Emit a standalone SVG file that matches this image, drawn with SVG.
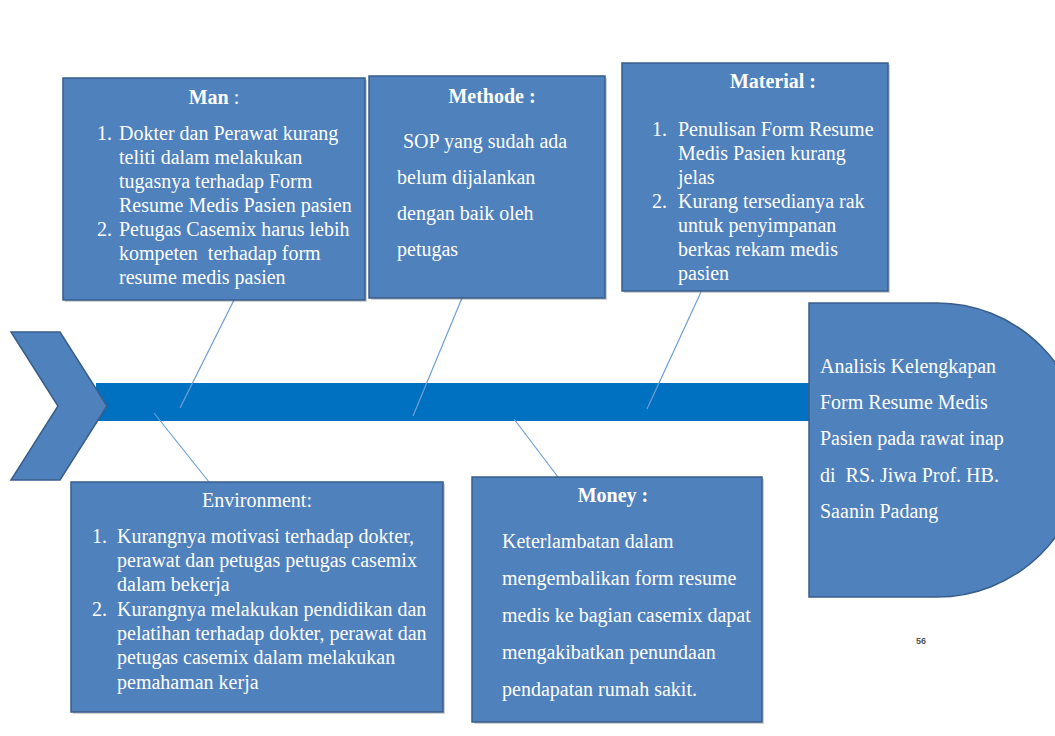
<svg xmlns="http://www.w3.org/2000/svg" width="1055" height="736" viewBox="0 0 1055 736">
<style>
.box{fill:#4F81BD;stroke:#385D8A;stroke-width:1.5}
.sh{fill:#000;opacity:0.18}
.t{font-family:"Liberation Serif","Times New Roman",serif;font-size:20px;fill:#FFFFFF}
.b{font-weight:bold}
.c{text-anchor:middle}
.ln{stroke:#6E9FD6;stroke-width:1.2;fill:none}
</style>
<rect width="1055" height="736" fill="#FFFFFF"/>
<g id="spine">
<rect x="96" y="383" width="716" height="38" fill="#0070C0"/>
</g>
<g id="tail">
<polygon points="11,332 60,332 107,406 60,480 11,480 58,406" class="box"/>
</g>
<g id="connectors">
<line class="ln" x1="234" y1="300" x2="180" y2="408"/>
<line class="ln" x1="462" y1="298" x2="413" y2="416"/>
<line class="ln" x1="701" y1="292" x2="647" y2="409"/>
<line class="ln" x1="154" y1="413" x2="209" y2="482"/>
<line class="ln" x1="514" y1="419" x2="558" y2="477"/>
</g>
<g id="man">
<rect class="sh" x="65" y="80" width="302" height="222"/>
<rect class="box" x="63" y="78" width="302" height="222"/>
<text class="t c" x="214" y="104"><tspan class="b">Man</tspan> :</text>
<text class="t" x="97" y="140">1.</text>
<text class="t" x="119" y="140">Dokter dan Perawat kurang</text>
<text class="t" x="119" y="164">teliti dalam melakukan</text>
<text class="t" x="119" y="188">tugasnya terhadap Form</text>
<text class="t" x="119" y="212">Resume Medis Pasien pasien</text>
<text class="t" x="97" y="236">2.</text>
<text class="t" x="119" y="236">Petugas Casemix harus lebih</text>
<text class="t" x="119" y="260" xml:space="preserve">kompeten  terhadap form</text>
<text class="t" x="119" y="284">resume medis pasien</text>
</g>
<g id="methode">
<rect class="sh" x="371" y="78" width="236" height="222"/>
<rect class="box" x="369" y="76" width="236" height="222"/>
<text class="t c b" x="492" y="103">Methode :</text>
<text class="t" x="403" y="148">SOP yang sudah ada</text>
<text class="t" x="397" y="184">belum dijalankan</text>
<text class="t" x="397" y="220">dengan baik oleh</text>
<text class="t" x="397" y="256">petugas</text>
</g>
<g id="material">
<rect class="sh" x="624" y="65" width="266" height="228"/>
<rect class="box" x="622" y="63" width="266" height="228"/>
<text class="t c b" x="773" y="88">Material :</text>
<text class="t" x="652" y="136">1.</text>
<text class="t" x="678" y="136">Penulisan Form Resume</text>
<text class="t" x="678" y="160">Medis Pasien kurang</text>
<text class="t" x="678" y="184">jelas</text>
<text class="t" x="652" y="208">2.</text>
<text class="t" x="678" y="208">Kurang tersedianya rak</text>
<text class="t" x="678" y="232">untuk penyimpanan</text>
<text class="t" x="678" y="256">berkas rekam medis</text>
<text class="t" x="678" y="280">pasien</text>
</g>
<g id="environment">
<rect class="sh" x="73" y="484" width="372" height="230"/>
<rect class="box" x="71" y="482" width="372" height="230"/>
<text class="t c" x="257" y="507">Environment:</text>
<text class="t" x="92" y="543">1.</text>
<text class="t" x="117" y="543">Kurangnya motivasi terhadap dokter,</text>
<text class="t" x="117" y="567">perawat dan petugas petugas casemix</text>
<text class="t" x="117" y="591">dalam bekerja</text>
<text class="t" x="92" y="616">2.</text>
<text class="t" x="117" y="616">Kurangnya melakukan pendidikan dan</text>
<text class="t" x="117" y="640">pelatihan terhadap dokter, perawat dan</text>
<text class="t" x="117" y="664">petugas casemix dalam melakukan</text>
<text class="t" x="117" y="689">pemahaman kerja</text>
</g>
<g id="money">
<rect class="sh" x="474" y="479" width="290" height="245"/>
<rect class="box" x="472" y="477" width="290" height="245"/>
<text class="t c b" x="613" y="502">Money :</text>
<text class="t" x="502" y="548">Keterlambatan dalam</text>
<text class="t" x="502" y="585">mengembalikan form resume</text>
<text class="t" x="502" y="622">medis ke bagian casemix dapat</text>
<text class="t" x="502" y="659">mengakibatkan penundaan</text>
<text class="t" x="502" y="696">pendapatan rumah sakit.</text>
</g>
<g id="head">
<path class="box" d="M809,303 L937,303 A147,147 0 0 1 937,597 L809,597 Z"/>
<text class="t" x="820" y="373">Analisis Kelengkapan</text>
<text class="t" x="820" y="409">Form Resume Medis</text>
<text class="t" x="820" y="445">Pasien pada rawat inap</text>
<text class="t" x="820" y="482" xml:space="preserve">di  RS. Jiwa Prof. HB.</text>
<text class="t" x="820" y="518">Saanin Padang</text>
</g>
<g id="page">
<text x="916" y="644" font-family="'Liberation Sans',Arial,sans-serif" font-size="9" font-weight="bold" fill="#555555">56</text>
</g>
</svg>
